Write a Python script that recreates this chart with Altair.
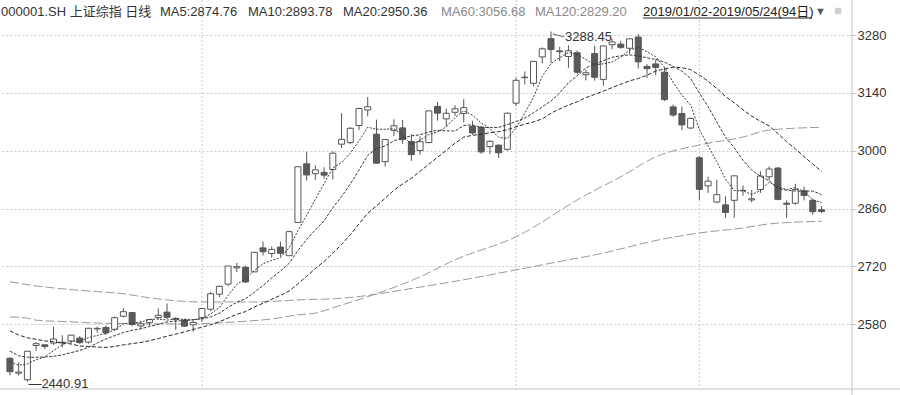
import altair as alt
import pandas as pd

# ---------------- data ----------------
dates = (
    ["2019-01-%02d" % d for d in [2, 3, 4, 7, 8, 9, 10, 11, 14, 15, 16, 17, 18, 21, 22, 23, 24, 25, 28, 29, 30, 31]]
    + ["2019-02-%02d" % d for d in [1, 11, 12, 13, 14, 15, 18, 19, 20, 21, 22, 25, 26, 27, 28]]
    + ["2019-03-%02d" % d for d in [1, 4, 5, 6, 7, 8, 11, 12, 13, 14, 15, 18, 19, 20, 21, 22, 25, 26, 27, 28, 29]]
    + ["2019-04-%02d" % d for d in [1, 2, 3, 4, 8, 9, 10, 11, 12, 15, 16, 17, 18, 19, 22, 23, 24, 25, 26, 29, 30]]
    + ["2019-05-%02d" % d for d in [6, 7, 8, 9, 10, 13, 14, 15, 16, 17, 20, 21, 22, 23, 24]]
)

opens = [2497.88, 2461.78, 2446.02, 2528.70, 2530.30, 2534.64, 2536.66, 2539.55, 2546.70, 2536.93, 2568.81,
         2572.52, 2567.96, 2599.51, 2608.54, 2575.99, 2583.95, 2596.54, 2609.51, 2591.33, 2590.47, 2578.78,
         2596.00, 2616.50, 2652.81, 2677.16, 2716.46, 2717.94, 2706.85, 2764.91, 2751.44, 2766.88, 2746.01,
         2826.48, 2968.28, 2944.50, 2947.54,
         2954.87, 3015.94, 3019.50, 3060.99, 3098.59, 3040.00, 2973.62, 3049.37, 3055.20, 3022.31, 3000.41,
         3019.81, 3107.12, 3077.13, 3093.00, 3090.12, 3059.22, 3057.00, 3010.00, 3013.51, 3003.28,
         3115.00, 3178.00, 3163.10, 3227.00, 3271.00, 3241.50, 3228.00, 3237.00, 3183.90, 3235.00, 3172.60,
         3256.60, 3257.80, 3247.80, 3275.00, 3203.90, 3210.00, 3190.00, 3106.00, 3090.00, 3055.00,
         2983.00, 2915.00, 2876.00, 2869.00, 2880.00, 2904.00, 2881.00, 2906.00, 2937.00, 2958.00, 2873.00,
         2873.00, 2903.00, 2880.00, 2857.00]
highs = [2500.28, 2488.48, 2515.32, 2536.98, 2531.35, 2574.41, 2553.57, 2554.79, 2551.23, 2571.52, 2574.29,
         2577.43, 2598.88, 2618.98, 2609.92, 2588.67, 2592.77, 2618.67, 2630.22, 2597.63, 2593.50, 2588.97,
         2618.89, 2658.12, 2673.88, 2721.07, 2728.65, 2721.83, 2754.42, 2780.10, 2768.43, 2780.32, 2806.51,
         2961.28, 2997.49, 2964.49, 2959.89,
         2998.84, 3090.80, 3057.09, 3103.83, 3129.94, 3075.16, 3027.47, 3075.94, 3074.50, 3039.84, 3034.54,
         3096.42, 3117.91, 3101.60, 3110.19, 3124.82, 3072.53, 3060.00, 3025.64, 3015.19, 3093.00,
         3176.62, 3191.80, 3216.30, 3250.20, 3288.45, 3251.20, 3254.90, 3242.70, 3195.90, 3254.00, 3253.60,
         3270.30, 3266.00, 3271.60, 3282.60, 3209.60, 3221.00, 3202.00, 3112.00, 3107.00, 3080.00,
         2987.00, 2937.00, 2930.00, 2890.00, 2940.00, 2916.00, 2905.00, 2950.00, 2962.00, 2961.00, 2880.00,
         2920.00, 2913.00, 2884.00, 2866.00]
lows = [2456.42, 2455.93, 2440.91, 2515.51, 2520.17, 2530.43, 2524.31, 2533.36, 2532.66, 2533.56, 2559.76,
        2554.19, 2565.36, 2596.60, 2575.72, 2568.05, 2576.29, 2591.55, 2592.78, 2566.74, 2573.96, 2562.30,
        2586.96, 2612.00, 2645.37, 2672.46, 2706.20, 2680.36, 2706.85, 2746.72, 2741.76, 2743.90, 2745.39,
        2826.16, 2928.12, 2929.35, 2932.42,
        2930.39, 3006.47, 3015.58, 3050.09, 3083.16, 2969.58, 2961.81, 3035.71, 3016.66, 2975.60, 2990.33,
        3017.91, 3072.71, 3058.41, 3084.17, 3068.58, 3038.37, 2992.56, 2992.01, 2982.61, 3000.00,
        3108.00, 3160.20, 3156.30, 3211.60, 3212.30, 3217.00, 3200.60, 3185.00, 3170.10, 3169.50, 3157.00,
        3245.40, 3246.30, 3233.90, 3199.00, 3176.10, 3183.00, 3120.00, 3082.00, 3050.00, 3052.00,
        2881.00, 2898.00, 2873.00, 2838.00, 2838.00, 2891.00, 2875.00, 2898.00, 2928.00, 2880.00, 2838.00,
        2869.00, 2880.00, 2845.00, 2849.00]
closes = [2465.29, 2464.36, 2514.87, 2533.09, 2526.46, 2544.34, 2535.10, 2553.83, 2535.77, 2570.42, 2570.34,
          2559.64, 2596.01, 2610.51, 2579.70, 2581.00, 2591.69, 2601.72, 2596.98, 2594.25, 2575.58, 2584.57,
          2618.23, 2653.90, 2671.89, 2721.07, 2719.70, 2682.39, 2754.36, 2755.65, 2761.22, 2751.80, 2804.23,
          2961.28, 2941.52, 2953.82, 2940.95,
          2994.01, 3027.58, 3054.25, 3102.10, 3106.42, 2969.86, 3026.99, 3060.31, 3026.95, 2990.69, 3021.75,
          3096.42, 3090.98, 3090.64, 3101.46, 3104.15, 3043.03, 2997.10, 3022.72, 2994.94, 3090.76,
          3170.36, 3176.82, 3216.30, 3246.57, 3244.81, 3239.66, 3241.93, 3189.96, 3188.63, 3177.79, 3253.60,
          3263.12, 3250.20, 3270.80, 3215.04, 3198.59, 3201.61, 3123.83, 3086.40, 3062.50, 3078.34,
          2906.46, 2926.39, 2893.76, 2850.95, 2939.21, 2903.71, 2883.61, 2938.68, 2955.71, 2882.30, 2870.60,
          2905.97, 2891.70, 2852.52, 2852.99]

# closes of the 19 sessions before 2019-01-02 (needed for the MA5/10/20 at the left edge)
prior_closes = [2665.96, 2649.81, 2605.18, 2605.89, 2584.58, 2594.09, 2602.15, 2634.05, 2593.74, 2597.97,
                2576.65, 2549.56, 2536.27, 2516.25, 2527.01, 2504.82, 2498.29, 2483.09, 2493.90]

# MA60 / MA120 (session index -> value)
ma60_idx = [0, 2, 3, 7, 10, 20, 26, 30, 33, 35, 37, 47, 51, 58, 66, 70, 74, 79, 84, 87, 93]
ma60_val = [2598, 2595, 2590, 2586, 2583, 2581, 2586, 2593, 2603, 2607, 2620, 2695, 2736, 2792, 2893,
            2937, 2985, 3014, 3033, 3050, 3056.68]
ma120_idx = [0, 3, 6, 10, 13, 16, 22, 28, 33, 38, 47, 64, 67, 75, 79, 84, 87, 93]
ma120_val = [2683, 2673, 2666, 2659, 2654, 2644, 2634, 2634, 2639, 2643, 2670, 2736, 2748, 2787, 2801,
             2813, 2823, 2829.20]

month_start_idx = [22, 58, 79]
y_ticks = [2580, 2720, 2860, 3000, 3140, 3280]

header_code = "000001.SH 上证综指 日线"
header_ma = ["MA5:2874.76", "MA10:2893.78", "MA20:2950.36", "MA60:3056.68", "MA120:2829.20"]
header_range = "2019/01/02-2019/05/24(94日)"
low_label = "2440.91"
high_label = "3288.45"

# ---------------- chart ----------------
W, H = 852, 369
FONT = "Liberation Sans, Noto Sans CJK SC"
DARK = "#3a3a3a"
GREY = "#9a9a9a"

x_scale = alt.Scale(domain=[-0.566, 95.92], nice=False, zero=False)
y_scale = alt.Scale(domain=[2423.5, 3316.3], nice=False, zero=False)

n = len(closes)
candles = pd.DataFrame({
    "idx": list(range(n)), "date": dates,
    "open": opens, "high": highs, "low": lows, "close": closes,
})
candles["dir"] = ["up" if c >= o else "down" for o, c in zip(opens, closes)]

close_df = pd.DataFrame({
    "idx": list(range(-len(prior_closes), n)),
    "close": prior_closes + closes,
})

X = alt.X("idx:Q", scale=x_scale, axis=None)

# y axis carried by an invisible layer
axis_layer = alt.Chart(pd.DataFrame({"v": y_ticks})).mark_point(opacity=0).encode(
    x=alt.value(0),
    y=alt.Y("v:Q", scale=y_scale, axis=alt.Axis(
        orient="right", values=y_ticks, format="d", title=None, grid=True, gridColor="#c9c9c9",
        gridDash=[2, 2], gridWidth=1, domain=False, ticks=True, tickSize=4,
        tickColor="#c9c9c9", labelPadding=1, labelFont="Liberation Sans", labelFontSize=13,
        labelColor="#333333")),
)

vgrid = alt.Chart(pd.DataFrame({"idx": month_start_idx})).mark_rule(
    color="#c9c9c9", strokeDash=[2, 2], strokeWidth=1).encode(
    x=X, y=alt.value(-20), y2=alt.value(H))

frame_lines = alt.layer(
    alt.Chart(pd.DataFrame({"a": [0]})).mark_rule(color="#c4c4c4", strokeWidth=1).encode(
        x=alt.value(W), y=alt.value(-20), y2=alt.value(H + 6)),
    alt.Chart(pd.DataFrame({"a": [0]})).mark_rule(color="#c4c4c4", strokeWidth=1).encode(
        x=alt.value(0), x2=alt.value(900), y=alt.value(H)),
)

wicks = alt.Chart(candles).mark_rule(color="#555555", strokeWidth=1).encode(
    x=X, y=alt.Y("low:Q", scale=y_scale), y2="high:Q")

bodies = alt.Chart(candles).mark_bar(size=6, stroke="#555555", strokeWidth=1).encode(
    x=X,
    y=alt.Y("open:Q", scale=y_scale),
    y2="close:Q",
    fill=alt.Fill("dir:N", scale=alt.Scale(domain=["up", "down"], range=["#ffffff", "#5a5a5a"]),
                  legend=None),
)

ma_base = (alt.Chart(close_df)
           .transform_window(ma5="mean(close)", frame=[-4, 0], sort=[alt.SortField("idx")])
           .transform_window(ma10="mean(close)", frame=[-9, 0], sort=[alt.SortField("idx")])
           .transform_window(ma20="mean(close)", frame=[-19, 0], sort=[alt.SortField("idx")])
           .transform_filter("datum.idx >= 0"))

ma5 = ma_base.mark_line(color=DARK, strokeWidth=1, strokeDash=[2, 1.5]).encode(
    x=X, y=alt.Y("ma5:Q", scale=y_scale))
ma10 = ma_base.mark_line(color=DARK, strokeWidth=1, strokeDash=[3, 1.5]).encode(
    x=X, y=alt.Y("ma10:Q", scale=y_scale))
ma20 = ma_base.mark_line(color="#2a2a2a", strokeWidth=1, strokeDash=[4, 2]).encode(
    x=X, y=alt.Y("ma20:Q", scale=y_scale))

ma60 = alt.Chart(pd.DataFrame({"idx": ma60_idx, "v": ma60_val})).mark_line(
    color=GREY, strokeWidth=1, strokeDash=[9, 3], interpolate="monotone").encode(
    x=X, y=alt.Y("v:Q", scale=y_scale))
ma120 = alt.Chart(pd.DataFrame({"idx": ma120_idx, "v": ma120_val})).mark_line(
    color=GREY, strokeWidth=1, strokeDash=[9, 3], interpolate="monotone").encode(
    x=X, y=alt.Y("v:Q", scale=y_scale))

# extreme-value annotations, tied to the max high / min low
hi_i = highs.index(max(highs))
lo_i = lows.index(min(lows))
ann = pd.DataFrame({
    "idx": [hi_i, lo_i], "v": [highs[hi_i], lows[lo_i]],
    "t": [high_label, low_label], "kind": ["hi", "lo"],
})
ann_hi_text = alt.Chart(ann).transform_filter("datum.kind == 'hi'").mark_text(
    align="left", baseline="middle", dx=14, dy=5, font="Liberation Sans", fontSize=13,
    color="#333333").encode(x=X, y=alt.Y("v:Q", scale=y_scale), text="t:N")
ann_hi_line = alt.Chart(ann).transform_filter("datum.kind == 'hi'").mark_text(
    align="left", baseline="middle", dx=2, dy=1, font="Liberation Sans", fontSize=12,
    color="#555555", angle=15).encode(x=X, y=alt.Y("v:Q", scale=y_scale), text=alt.value("—"))
ann_lo_text = alt.Chart(ann).transform_filter("datum.kind == 'lo'").mark_text(
    align="left", baseline="middle", dx=1, dy=2, font="Liberation Sans", fontSize=13,
    color="#333333").encode(x=X, y=alt.Y("v:Q", scale=y_scale), text=alt.value("—" + low_label))

# header
def htext(txt, x, color="#333333", size=13):
    return alt.Chart(pd.DataFrame({"t": [txt]})).mark_text(
        align="left", baseline="middle", font=FONT, fontSize=size, color=color).encode(
        x=alt.value(x), y=alt.value(-8), text="t:N")

ma_x = [160, 248, 343, 441, 535]
ma_col = ["#333333", "#333333", "#333333", "#8a8a8a", "#8a8a8a"]
header = [htext(header_code, 1)]
header += [htext(t, x, c) for t, x, c in zip(header_ma, ma_x, ma_col)]
header += [htext(header_range, 643, "#222222"), htext("▼", 815, "#555555", 11)]
underline = alt.Chart(pd.DataFrame({"a": [0]})).mark_rule(color="#222222", strokeWidth=1).encode(
    x=alt.value(643), x2=alt.value(812), y=alt.value(-2))
icon = alt.Chart(pd.DataFrame({"a": [0]})).mark_square(size=40, color="#cfcfcf", opacity=1).encode(
    x=alt.value(838), y=alt.value(-9))

chart = alt.layer(
    axis_layer, vgrid, frame_lines,
    ma120, ma60, wicks, bodies, ma20, ma10, ma5,
    ann_hi_line, ann_hi_text, ann_lo_text,
    *header, underline, icon,
).properties(
    width=W, height=H,
    padding={"left": 0, "top": 20, "right": 48, "bottom": 6},
    autosize=alt.AutoSizeParams(type="none"),
    background="white",
).configure_view(stroke=None)

chart.save("out.html", embed_options={"renderer": "svg", "actions": False})
